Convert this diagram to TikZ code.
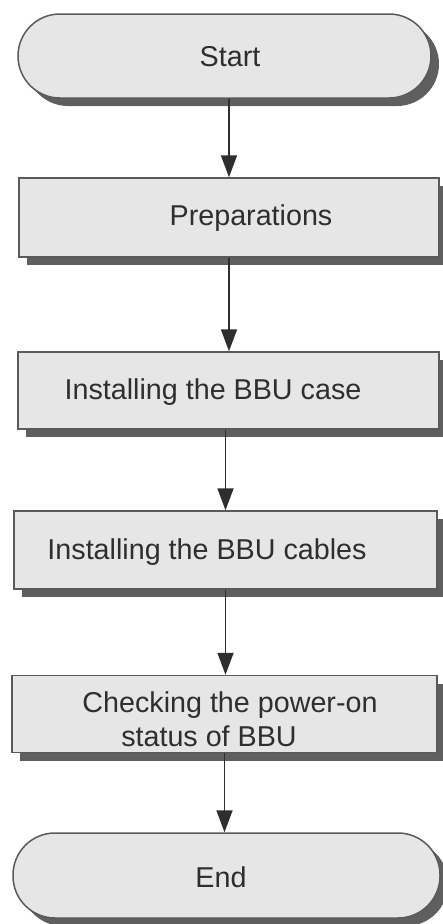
\documentclass[tikz,border=0pt]{standalone}
\usepackage{fontspec}
\setmainfont{Liberation Sans}
\usetikzlibrary{shadows,arrows.meta,calc}
\definecolor{boxfill}{HTML}{E6E6E6}
\definecolor{boxedge}{HTML}{5A5A5A}
\definecolor{shade}{HTML}{5F5F5F}
\definecolor{ink}{HTML}{2E2E2E}
\tikzset{
  x=1pt, y=1pt,
  stepbox/.style={draw=boxedge, line width=1.5pt, fill=boxfill, inner sep=0pt,
    drop shadow={shadow xshift=8pt, shadow yshift=-8pt, fill=shade, opacity=1}},
  terminal/.style={stepbox, rounded corners=42pt},
  label/.style={text=ink, font=\fontsize{28.7}{32}\selectfont, inner sep=0pt, align=center},
  arr/.style={draw=ink, line width=1.8pt, -{Triangle[length=22pt, width=16pt]}}
}
\begin{document}
\begin{tikzpicture}
\useasboundingbox (0,0) rectangle (443,-924);

% Start terminal
\node[terminal, minimum width=413pt, minimum height=84pt] (start) at (224.5,-56) {};
\node[label] (startT) at (230,-57) {Start};

% Process steps
\node[stepbox, minimum width=420pt, minimum height=79pt] (prep) at (229,-217.5) {};
\node[label] (prepT) at (251,-218) {Preparations};

\node[stepbox, minimum width=421pt, minimum height=77pt] (case) at (228.5,-390.5) {};
\node[label] (caseT) at (213,-392) {Installing the BBU case};

\node[stepbox, minimum width=423pt, minimum height=78pt] (cables) at (225.5,-550) {};
\node[label] (cablesT) at (207,-552) {Installing the BBU cables};

\node[stepbox, minimum width=425pt, minimum height=77pt] (check) at (224.5,-714) {};
\node[label] (checkA) at (230,-705) {Checking the power-on};
\node[label] (checkB) at (209,-736) {status of BBU};

% End terminal
\node[terminal, minimum width=427pt, minimum height=85pt] (end) at (226.5,-875.5) {};
\node[label] (endT) at (221,-877) {End};

% Connectors
\draw[arr] (start.south -| prep.north) -- (prep.north);
\draw[arr] (prep.south) -- (case.north -| prep.south);
\draw[arr] (cables.north |- case.south) -- (cables.north);
\draw[arr] (cables.south) -- (check.north -| cables.south);
\draw[arr] (check.south) -- (end.north -| check.south);
\end{tikzpicture}
\end{document}
